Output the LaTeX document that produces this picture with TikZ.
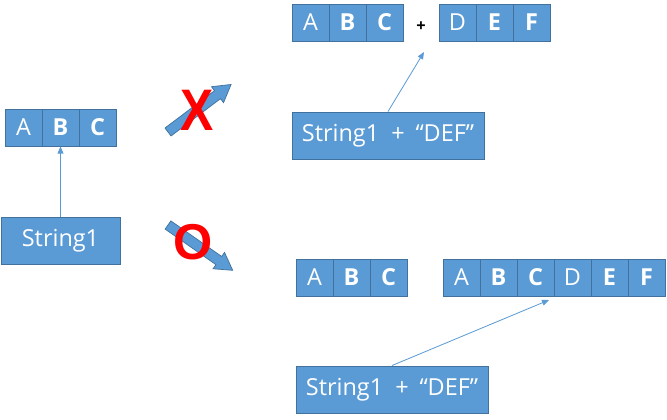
\documentclass[tikz,border=0pt]{standalone}
\usepackage{fontspec}
\setmainfont{Open Sans}
\newfontfamily\signfont{Liberation Sans}
\usetikzlibrary{arrows.meta}
\definecolor{cellblue}{HTML}{5B9BD5}
\definecolor{celledge}{HTML}{41719C}
\definecolor{signred}{HTML}{FF0000}

\begin{document}
\begin{tikzpicture}[x=0.03cm,y=-0.03cm,
  cell/.style={draw=celledge,fill=cellblue,line width=0.8pt,text=white,inner sep=0pt,
    minimum width=1.11cm,minimum height=1.11cm,font=\fontsize{20}{24}\selectfont},
  bcell/.style={cell,font=\fontsize{20}{24}\selectfont\bfseries},
  strbox/.style={draw=celledge,fill=cellblue,line width=0.8pt,text=white,inner sep=0pt,
    minimum height=1.41cm,font=\fontsize{20}{24}\selectfont},
  link/.style={draw=cellblue,line width=0.7pt,-{Triangle[length=6pt,width=5pt]}},
  blockarr/.style={draw=celledge,fill=cellblue,line width=0.6pt},
  signtext/.style={text=signred,inner sep=0pt,font=\signfont\bfseries\fontsize{50}{54}\selectfont}]
\useasboundingbox (0,0) rectangle (667,420);

%String1
\node[cell]  (a1) at (23.5,127.5) {A};
\node[bcell] (b1) at (60.5,127.5) {B};
\node[bcell] (c1) at (97.5,127.5) {C};
\node[strbox,minimum width=3.57cm] (str1) at (60.5,240.5) {String1};
\draw[link] (str1.north) -- (b1.south);

%wrong way
\begin{scope}[shift={(168,132)},rotate=37]
\filldraw[blockarr] (0,-5) -- (62,-5) -- (62,-10) -- (79,0) -- (62,10) -- (62,5) -- (0,5) -- cycle;
\end{scope}
\node[signtext,xscale=0.85] (wrong) at (197,110) {X};

%right way
\begin{scope}[shift={(168,225)},rotate=-35]
\filldraw[blockarr] (0,-5) -- (62,-5) -- (62,-10) -- (79,0) -- (62,10) -- (62,5) -- (0,5) -- cycle;
\end{scope}
\node[signtext,font=\signfont\bfseries\fontsize{43}{47}\selectfont] (right) at (193,242) {O};

%top: ABC + DEF
\node[cell]  (a2) at (310.5,22.5) {A};
\node[bcell] (b2) at (347.5,22.5) {B};
\node[bcell] (c2) at (384.5,22.5) {C};
\node[font=\fontsize{14}{16}\selectfont\bfseries] (plus) at (421,27) {+};
\node[cell]  (d2) at (457.5,22.5) {D};
\node[bcell] (e2) at (494.5,22.5) {E};
\node[bcell] (f2) at (531.5,22.5) {F};
\node[strbox,minimum width=5.76cm] (str2) at (388,135.5) {String1~~+~\hspace{0.2em}“DEF”};
\coordinate (tip1) at (424,52);
\draw[link] (str2.north) -- (tip1);

%bottom: ABC, ABCDEF
\node[cell]  (a3) at (314.5,277.5) {A};
\node[bcell] (b3) at (351.5,277.5) {B};
\node[bcell] (c3) at (388.5,277.5) {C};
\node[cell]  (a4) at (461.5,277.5) {A};
\node[bcell] (b4) at (498.5,277.5) {B};
\node[bcell] (c4) at (535.5,277.5) {C};
\node[cell]  (d4) at (572.5,277.5) {D};
\node[bcell] (e4) at (609.5,277.5) {E};
\node[bcell] (f4) at (646.5,277.5) {F};
\node[strbox,minimum width=5.76cm] (str3) at (392,389.5) {String1~~+~\hspace{0.2em}“DEF”};
\coordinate (tip2) at (549,300);
\draw[link] (str3.north) -- (tip2);
\end{tikzpicture}
\end{document}
